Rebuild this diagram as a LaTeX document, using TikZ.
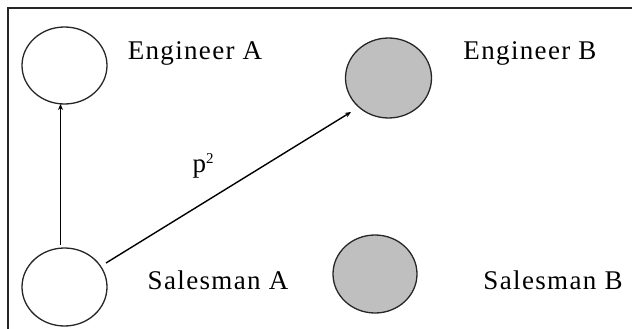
\documentclass[tikz,border=0pt]{standalone}
\usepackage{fontspec}
\setmainfont{Liberation Serif}
\newfontfamily\lblfont[LetterSpace=5]{Liberation Serif}
\usetikzlibrary{arrows.meta,shapes.geometric}
\begin{document}
\begin{tikzpicture}[x=1pt,y=-1pt,
  agent/.style={draw=black!85,line width=1.3pt,ellipse,inner sep=0pt},
  white/.style={agent,fill=white},
  grey/.style={agent,fill=black!25},
  lbl/.style={font=\lblfont\fontsize{27}{30}\selectfont,inner sep=0pt},
  link/.style={draw=black,line width=1.4pt,-{Stealth[length=6pt,width=5pt]}}]
\useasboundingbox (0,0) rectangle (632,329);
\draw[line width=1.6pt,black!85] (8,340) -- (8,8) -- (640,8);
\node[white,minimum width=85pt,minimum height=77pt] (ea) at (64.5,65.5) {};
\node[white,minimum width=85pt,minimum height=78pt] (sa) at (64.5,287) {};
\node[grey,minimum width=86pt,minimum height=80pt] (eb) at (388.5,78) {};
\node[grey,minimum width=84pt,minimum height=78pt] (sb) at (375,274) {};
\node[lbl] (tea) at (195,53) {Engineer A};
\node[lbl] (teb) at (530,53) {Engineer B};
\node[lbl] (tsa) at (218,280) {Salesman A};
\node[lbl] (tsb) at (553,280) {Salesman B};
\coordinate (s1) at (60.5,245);
\coordinate (e1) at (60.5,104);
\coordinate (s2) at (106,263);
\coordinate (e2) at (351,112);
\draw[link] (s1) -- (e1);
\draw[link] (s2) -- (e2);
\node[lbl] (p) at (203,166) {p\raisebox{9pt}{\fontsize{15}{15}\selectfont 2}};
\end{tikzpicture}
\end{document}
